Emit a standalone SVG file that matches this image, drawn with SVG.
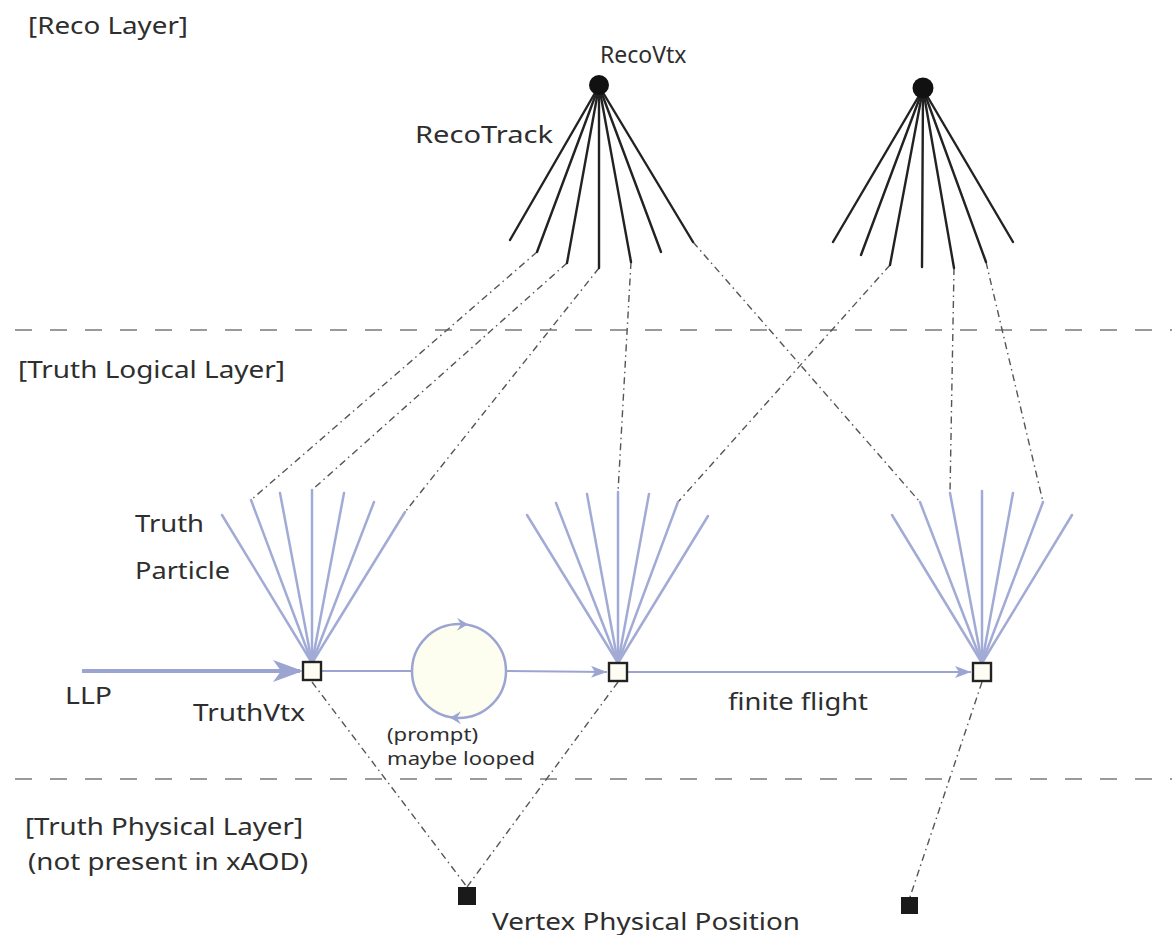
<svg xmlns="http://www.w3.org/2000/svg" width="1172" height="935" viewBox="0 0 1172 935">
<style>
  text { font-family: "Noto Sans", "Liberation Sans", Arial, sans-serif; fill: #2e2e2e; }
  .lbl { font-size: 23px; }
  .sm { font-size: 18px; }
  .layer { stroke: #9a9a9a; stroke-width: 2; stroke-dasharray: 17 18; fill: none; }
  .reco { stroke: #222; stroke-width: 2.4; fill: none; stroke-linecap: round; }
  .truth { stroke: #a2abd5; stroke-width: 2.5; fill: none; stroke-linecap: round; }
  .flow { stroke: #9ca5d1; stroke-width: 2; fill: none; }
  .link { stroke: #555; stroke-width: 1.4; fill: none; stroke-dasharray: 7 4 1.5 4; }
  .tbox { fill: #fdfdf3; stroke: #222; stroke-width: 2.4; }
  .pbox { fill: #1a1a1a; }
</style>
<defs>
  <marker id="arrBlue" viewBox="0 0 16 12" refX="16" refY="6" markerWidth="16" markerHeight="12" markerUnits="userSpaceOnUse" orient="auto">
    <path d="M0,0 L16,6 L0,12 L4,6 Z" fill="#9ca5d1"/>
  </marker>
  <marker id="arrLLP" viewBox="0 0 30 22" refX="27" refY="11" markerWidth="30" markerHeight="22" markerUnits="userSpaceOnUse" orient="auto">
    <path d="M0,0 L30,11 L0,22 L8,11 Z" fill="#9ca5d1"/>
  </marker>
</defs>

<rect width="1172" height="935" fill="#ffffff"/>

<g id="layers">
  <line class="layer" x1="15" y1="330" x2="1172" y2="330"/>
  <line class="layer" x1="15" y1="779" x2="1172" y2="779"/>
  <text class="lbl" x="28" y="34" textLength="160" lengthAdjust="spacingAndGlyphs">[Reco Layer]</text>
  <text class="lbl" x="18" y="378" textLength="267" lengthAdjust="spacingAndGlyphs">[Truth Logical Layer]</text>
  <text class="lbl" x="25" y="835" textLength="278" lengthAdjust="spacingAndGlyphs">[Truth Physical Layer]</text>
  <text class="lbl" x="28" y="870" textLength="280" lengthAdjust="spacingAndGlyphs">(not present in xAOD)</text>
</g>

<g id="connectors">
  <!-- reco track to truth particle links -->
  <line class="link" x1="537" y1="252" x2="251" y2="500"/>
  <line class="link" x1="567" y1="263" x2="312" y2="490"/>
  <line class="link" x1="599" y1="268" x2="405" y2="512"/>
  <line class="link" x1="631" y1="262" x2="618" y2="492"/>
  <line class="link" x1="693" y1="242" x2="920" y2="502"/>
  <line class="link" x1="890" y1="265" x2="678" y2="502"/>
  <line class="link" x1="954" y1="268" x2="950" y2="493"/>
  <line class="link" x1="986" y1="262" x2="1043" y2="502"/>
  <!-- truth vertex to physical position -->
  <line class="link" x1="312" y1="682" x2="467" y2="887"/>
  <line class="link" x1="618" y1="682" x2="467" y2="887"/>
  <line class="link" x1="982" y1="682" x2="910" y2="897"/>
  <!-- LLP and truth flow -->
  <line x1="82" y1="671" x2="300" y2="671" stroke="#9ca5d1" stroke-width="4" marker-end="url(#arrLLP)"/>
  <line class="flow" x1="322" y1="671" x2="412" y2="671"/>
  <line class="flow" x1="506" y1="671" x2="607" y2="672" marker-end="url(#arrBlue)"/>
  <line class="flow" x1="628" y1="672" x2="971" y2="672" marker-end="url(#arrBlue)"/>
</g>

<g id="reco-vtx-1">
  <line class="reco" x1="599" y1="86" x2="510" y2="240"/>
  <line class="reco" x1="599" y1="86" x2="537" y2="252"/>
  <line class="reco" x1="599" y1="86" x2="567" y2="263"/>
  <line class="reco" x1="599" y1="86" x2="599" y2="268"/>
  <line class="reco" x1="599" y1="86" x2="631" y2="262"/>
  <line class="reco" x1="599" y1="86" x2="661" y2="252"/>
  <line class="reco" x1="599" y1="86" x2="693" y2="242"/>
  <circle cx="599" cy="85" r="10" fill="#111"/>
  <text class="lbl" x="600" y="63">RecoVtx</text>
  <text class="lbl" x="415" y="143" textLength="138" lengthAdjust="spacingAndGlyphs">RecoTrack</text>
</g>

<g id="reco-vtx-2">
  <line class="reco" x1="923" y1="89" x2="833" y2="242"/>
  <line class="reco" x1="923" y1="89" x2="861" y2="255"/>
  <line class="reco" x1="923" y1="89" x2="890" y2="265"/>
  <line class="reco" x1="923" y1="89" x2="922" y2="267"/>
  <line class="reco" x1="923" y1="89" x2="954" y2="268"/>
  <line class="reco" x1="923" y1="89" x2="986" y2="262"/>
  <line class="reco" x1="923" y1="89" x2="1013" y2="242"/>
  <circle cx="923" cy="88" r="10.5" fill="#111"/>
</g>

<g id="truth-vtx-1">
  <line class="truth" x1="312" y1="663" x2="222" y2="515"/>
  <line class="truth" x1="312" y1="663" x2="251" y2="500"/>
  <line class="truth" x1="312" y1="663" x2="280" y2="493"/>
  <line class="truth" x1="312" y1="663" x2="312" y2="490"/>
  <line class="truth" x1="312" y1="663" x2="344" y2="493"/>
  <line class="truth" x1="312" y1="663" x2="374" y2="502"/>
  <line class="truth" x1="312" y1="663" x2="405" y2="512"/>
  <rect class="tbox" x="303" y="662" width="18" height="18"/>
  <text class="lbl" x="135" y="532" textLength="69" lengthAdjust="spacingAndGlyphs">Truth</text>
  <text class="lbl" x="135" y="579" textLength="95" lengthAdjust="spacingAndGlyphs">Particle</text>
  <text class="lbl" x="65" y="704" textLength="47" lengthAdjust="spacingAndGlyphs">LLP</text>
  <text class="lbl" x="193" y="721" textLength="112" lengthAdjust="spacingAndGlyphs">TruthVtx</text>
</g>

<g id="loop">
  <circle cx="459" cy="671" r="47" fill="#fdfdf0" stroke="#9ca5d1" stroke-width="2.5"/>
  <path d="M-11,-6.5 L0,0 L-11,6.5 L-7,0 Z" fill="#9ca5d1" transform="translate(468,624.3)"/>
  <path d="M-11,-6.5 L0,0 L-11,6.5 L-7,0 Z" fill="#9ca5d1" transform="translate(450,717.7) rotate(180)"/>
  <text class="sm" x="387" y="741" textLength="91" lengthAdjust="spacingAndGlyphs">(prompt)</text>
  <text class="sm" x="387" y="765" textLength="148" lengthAdjust="spacingAndGlyphs">maybe looped</text>
</g>

<g id="truth-vtx-2">
  <line class="truth" x1="618" y1="663" x2="527" y2="515"/>
  <line class="truth" x1="618" y1="663" x2="556" y2="503"/>
  <line class="truth" x1="618" y1="663" x2="587" y2="494"/>
  <line class="truth" x1="618" y1="663" x2="618" y2="492"/>
  <line class="truth" x1="618" y1="663" x2="649" y2="494"/>
  <line class="truth" x1="618" y1="663" x2="678" y2="502"/>
  <line class="truth" x1="618" y1="663" x2="708" y2="516"/>
  <rect class="tbox" x="609" y="663" width="18" height="18"/>
</g>

<g id="truth-vtx-3">
  <line class="truth" x1="982" y1="663" x2="892" y2="515"/>
  <line class="truth" x1="982" y1="663" x2="920" y2="502"/>
  <line class="truth" x1="982" y1="663" x2="950" y2="493"/>
  <line class="truth" x1="982" y1="663" x2="982" y2="491"/>
  <line class="truth" x1="982" y1="663" x2="1013" y2="493"/>
  <line class="truth" x1="982" y1="663" x2="1043" y2="502"/>
  <line class="truth" x1="982" y1="663" x2="1072" y2="515"/>
  <rect class="tbox" x="973" y="663" width="18" height="18"/>
  <text class="lbl" x="728" y="710" textLength="140" lengthAdjust="spacingAndGlyphs">finite flight</text>
</g>

<g id="phys-pos-1">
  <rect class="pbox" x="458" y="887" width="18" height="18"/>
  <text class="lbl" x="492" y="930" textLength="308" lengthAdjust="spacingAndGlyphs">Vertex Physical Position</text>
</g>

<g id="phys-pos-2">
  <rect class="pbox" x="901" y="897" width="17" height="17"/>
</g>
</svg>
